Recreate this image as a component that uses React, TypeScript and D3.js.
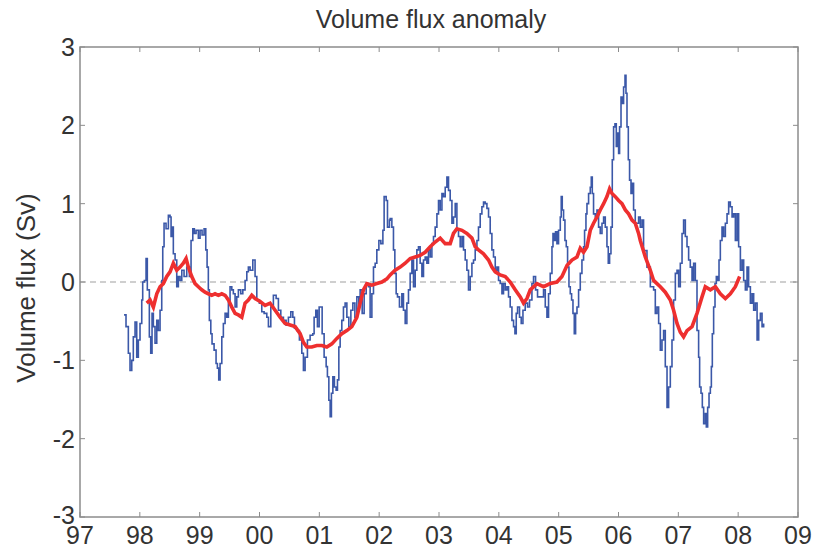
import * as d3 from 'd3';
import React, { useEffect, useRef } from 'react';

// blue: raw volume flux anomaly (Sv), time in decimal years
const blueT = [
  1997.736, 1997.769, 1997.808, 1997.836, 1997.865, 1997.891, 1997.92, 1997.948, 1997.975, 1998.003,
  1998.032, 1998.048, 1998.075, 1998.104, 1998.125, 1998.159, 1998.182, 1998.204, 1998.226, 1998.254,
  1998.283, 1998.309, 1998.338, 1998.366, 1998.383, 1998.405, 1998.438, 1998.477, 1998.505, 1998.522,
  1998.543, 1998.56, 1998.589, 1998.617, 1998.644, 1998.672, 1998.701, 1998.739, 1998.784, 1998.828,
  1998.856, 1998.885, 1998.911, 1998.94, 1998.978, 1999.007, 1999.04, 1999.074, 1999.102, 1999.124,
  1999.145, 1999.162, 1999.186, 1999.207, 1999.241, 1999.274, 1999.296, 1999.319, 1999.341, 1999.37,
  1999.396, 1999.425, 1999.453, 1999.48, 1999.508, 1999.537, 1999.563, 1999.592, 1999.62, 1999.647,
  1999.687, 1999.721, 1999.759, 1999.788, 1999.814, 1999.843, 1999.888, 1999.926, 1999.955, 1999.998,
  2000.038, 2000.077, 2000.122, 2000.149, 2000.189, 2000.232, 2000.278, 2000.316, 2000.356, 2000.4,
  2000.445, 2000.483, 2000.523, 2000.557, 2000.584, 2000.624, 2000.667, 2000.707, 2000.734, 2000.762,
  2000.801, 2000.846, 2000.891, 2000.913, 2000.941, 2000.968, 2000.997, 2001.025, 2001.047, 2001.08,
  2001.114, 2001.135, 2001.159, 2001.181, 2001.202, 2001.226, 2001.252, 2001.281, 2001.303, 2001.326,
  2001.348, 2001.376, 2001.403, 2001.431, 2001.46, 2001.493, 2001.527, 2001.56, 2001.594, 2001.627,
  2001.66, 2001.682, 2001.716, 2001.749, 2001.783, 2001.821, 2001.849, 2001.878, 2001.905, 2001.933,
  2001.961, 2001.995, 2002.028, 2002.062, 2002.083, 2002.117, 2002.139, 2002.172, 2002.184, 2002.212,
  2002.239, 2002.262, 2002.284, 2002.306, 2002.339, 2002.379, 2002.406, 2002.435, 2002.463, 2002.49,
  2002.518, 2002.547, 2002.574, 2002.602, 2002.63, 2002.657, 2002.685, 2002.714, 2002.741, 2002.769,
  2002.797, 2002.824, 2002.853, 2002.881, 2002.908, 2002.936, 2002.965, 2002.992, 2003.02, 2003.049,
  2003.075, 2003.104, 2003.132, 2003.159, 2003.187, 2003.216, 2003.242, 2003.271, 2003.299, 2003.326,
  2003.354, 2003.383, 2003.41, 2003.438, 2003.466, 2003.493, 2003.522, 2003.55, 2003.577, 2003.605,
  2003.634, 2003.66, 2003.689, 2003.717, 2003.744, 2003.772, 2003.801, 2003.828, 2003.856, 2003.884,
  2003.911, 2003.94, 2003.968, 2003.995, 2004.023, 2004.052, 2004.078, 2004.107, 2004.135, 2004.162,
  2004.19, 2004.219, 2004.246, 2004.269, 2004.291, 2004.313, 2004.346, 2004.374, 2004.403, 2004.441,
  2004.48, 2004.513, 2004.553, 2004.58, 2004.614, 2004.647, 2004.747, 2004.776, 2004.804, 2004.831,
  2004.859, 2004.888, 2004.905, 2004.926, 2004.948, 2004.971, 2004.998, 2005.027, 2005.043, 2005.06,
  2005.082, 2005.105, 2005.127, 2005.149, 2005.172, 2005.194, 2005.216, 2005.239, 2005.261, 2005.283,
  2005.306, 2005.333, 2005.361, 2005.389, 2005.416, 2005.433, 2005.456, 2005.473, 2005.5, 2005.528,
  2005.545, 2005.562, 2005.583, 2005.612, 2005.64, 2005.667, 2005.695, 2005.724, 2005.751, 2005.779,
  2005.807, 2005.829, 2005.851, 2005.874, 2005.896, 2005.918, 2005.941, 2005.963, 2005.985, 2006.002,
  2006.018, 2006.042, 2006.063, 2006.085, 2006.109, 2006.125, 2006.142, 2006.164, 2006.185, 2006.209,
  2006.226, 2006.252, 2006.28, 2006.336, 2006.364, 2006.393, 2006.419, 2006.476, 2006.532, 2006.587,
  2006.615, 2006.643, 2006.671, 2006.699, 2006.727, 2006.754, 2006.782, 2006.811, 2006.838, 2006.866,
  2006.894, 2006.921, 2006.95, 2006.978, 2007.005, 2007.033, 2007.062, 2007.088, 2007.117, 2007.145,
  2007.172, 2007.2, 2007.229, 2007.256, 2007.284, 2007.312, 2007.339, 2007.356, 2007.379, 2007.401,
  2007.423, 2007.451, 2007.468, 2007.49, 2007.513, 2007.535, 2007.552, 2007.568, 2007.59, 2007.613,
  2007.635, 2007.657, 2007.68, 2007.702, 2007.73, 2007.757, 2007.786, 2007.814, 2007.841, 2007.869,
  2007.898, 2007.925, 2007.953, 2007.981, 2008.008, 2008.037, 2008.065, 2008.092, 2008.12, 2008.148,
  2008.175, 2008.204, 2008.232, 2008.259, 2008.287, 2008.316, 2008.343, 2008.371, 2008.399, 2008.426,
];
const blueV = [
  -0.42, -0.57, -0.91, -1.13, -1.0, -0.7, -0.51, -0.96, -0.74, -0.53,
  -0.23, 0.0, 0.02, 0.3, -0.1, -0.7, -0.91, -0.4, -0.57, -0.78,
  -0.49, -0.62, -0.36, 0.02, 0.45, 0.75, 0.68, 0.85, 0.83, 0.58,
  0.7, 0.36, 0.28, -0.06, 0.07, 0.02, 0.15, 0.07, 0.19, 0.07,
  0.53, 0.68, 0.62, 0.66, 0.56, 0.66, 0.6, 0.68, 0.41, 0.19,
  -0.1, -0.49, -0.66, -0.79, -0.87, -1.04, -1.1, -1.25, -1.04, -0.7,
  -0.53, -0.4, -0.45, -0.27, -0.06, -0.1, -0.15, -0.32, -0.19, -0.1,
  -0.15, -0.1, 0.02, 0.13, 0.19, 0.15, 0.28, 0.07, -0.23, -0.27,
  -0.38, -0.4, -0.45, -0.57, -0.32, -0.17, -0.21, -0.36, -0.45, -0.49,
  -0.55, -0.45, -0.38, -0.45, -0.59, -0.62, -0.74, -0.91, -1.13, -0.96,
  -0.74, -0.68, -0.66, -0.45, -0.36, -0.57, -0.32, -0.32, -0.66, -0.96,
  -1.08, -1.21, -1.51, -1.72, -1.42, -1.21, -1.34, -1.38, -1.25, -0.83,
  -0.62, -0.49, -0.32, -0.27, -0.45, -0.57, -0.36, -0.27, -0.45, -0.19,
  -0.27, -0.1, -0.4, -0.15, -0.02, -0.06, -0.45, -0.15, 0.19, 0.24,
  0.41, 0.53, 0.49, 0.66, 1.09, 1.04, 0.7, 0.79, 0.81, 0.7,
  0.41, 0.11, -0.15, -0.19, -0.32, -0.15, -0.36, -0.53, -0.27, -0.1,
  0.11, 0.28, -0.06, 0.15, 0.41, 0.45, 0.24, 0.07, 0.28, 0.32,
  0.24, 0.41, 0.32, 0.49, 0.58, 0.7, 0.87, 1.04, 0.92, 1.13,
  1.09, 1.21, 1.34, 1.17, 1.04, 0.75, 0.83, 1.0, 0.66, 0.58,
  0.45, 0.58, 0.41, 0.28, 0.15, -0.1, 0.07, 0.24, 0.28, 0.41,
  0.53, 0.7, 0.87, 0.96, 1.02, 1.0, 0.94, 0.83, 0.62, 0.41,
  0.32, 0.15, 0.19, 0.02, -0.02, -0.15, -0.02, -0.1, -0.06, -0.19,
  -0.32, -0.49, -0.57, -0.66, -0.4, -0.32, -0.45, -0.53, -0.36, -0.27,
  -0.32, -0.23, -0.02, 0.07, -0.1, -0.19, -0.1, -0.32, -0.45, -0.15,
  0.11, 0.45, 0.62, 0.53, 0.64, 0.49, 0.66, 0.83, 1.09, 0.92,
  0.79, 0.53, 0.45, 0.19, -0.06, -0.15, -0.23, -0.4, -0.66, -0.4,
  -0.32, -0.1, 0.11, 0.28, 0.45, 0.66, 0.87, 1.0, 1.13, 1.21,
  1.34, 1.13, 0.87, 0.83, 0.92, 0.7, 0.62, 0.75, 0.83, 0.7,
  0.45, 0.24, 0.36, 0.7, 1.56, 1.98, 2.02, 1.73, 1.9, 1.64,
  1.98, 2.36, 2.28, 2.49, 2.64, 2.41, 1.98, 1.56, 1.3, 1.13,
  1.26, 0.92, 0.75, 0.83, 0.7, 0.79, 0.4, 0.19, -0.06, -0.1,
  -0.4, -0.32, -0.53, -0.87, -0.74, -0.62, -1.08, -1.6, -1.34, -1.08,
  -0.74, -0.23, 0.11, 0.15, -0.06, 0.24, 0.62, 0.79, 0.58, 0.45,
  0.28, 0.19, 0.02, 0.24, 0.02, -0.62, -0.96, -1.34, -1.42, -1.6,
  -1.81, -1.68, -1.85, -1.6, -1.42, -1.34, -1.08, -0.66, -0.32, -0.02,
  0.07, 0.02, 0.28, 0.53, 0.7, 0.58, 0.75, 0.87, 1.02, 0.96,
  0.83, 0.87, 0.53, 0.87, 0.45, 0.15, 0.28, 0.02, -0.1, 0.19,
  -0.06, -0.27, -0.15, -0.36, -0.27, -0.74, -0.49, -0.4, -0.57, -0.53,
];

// red: smoothed series
const redT = [
  1998.115, 1998.171, 1998.226, 1998.283, 1998.338, 1998.393, 1998.45, 1998.505, 1998.56, 1998.617,
  1998.672, 1998.727, 1998.773, 1998.811, 1998.868, 1998.923, 1998.978, 1999.035, 1999.09, 1999.145,
  1999.202, 1999.257, 1999.313, 1999.37, 1999.425, 1999.48, 1999.537, 1999.592, 1999.647, 1999.704,
  1999.759, 1999.814, 1999.871, 1999.926, 2000.01, 2000.094, 2000.177, 2000.261, 2000.344, 2000.428,
  2000.512, 2000.595, 2000.679, 2000.734, 2000.791, 2000.874, 2000.958, 2001.042, 2001.125, 2001.209,
  2001.293, 2001.376, 2001.46, 2001.543, 2001.627, 2001.682, 2001.737, 2001.794, 2001.878, 2001.961,
  2002.045, 2002.129, 2002.184, 2002.267, 2002.351, 2002.435, 2002.518, 2002.602, 2002.685, 2002.769,
  2002.853, 2002.936, 2003.02, 2003.104, 2003.187, 2003.242, 2003.299, 2003.383, 2003.466, 2003.55,
  2003.605, 2003.66, 2003.744, 2003.828, 2003.884, 2003.94, 2004.023, 2004.107, 2004.19, 2004.274,
  2004.358, 2004.413, 2004.47, 2004.525, 2004.637, 2004.747, 2004.859, 2004.971, 2005.055, 2005.139,
  2005.222, 2005.306, 2005.361, 2005.416, 2005.473, 2005.528, 2005.583, 2005.64, 2005.695, 2005.751,
  2005.807, 2005.851, 2005.891, 2005.946, 2006.002, 2006.058, 2006.114, 2006.169, 2006.226, 2006.28,
  2006.336, 2006.364, 2006.448, 2006.532, 2006.587, 2006.643, 2006.699, 2006.782, 2006.866, 2006.921,
  2006.978, 2007.033, 2007.088, 2007.145, 2007.229, 2007.312, 2007.396, 2007.451, 2007.535, 2007.619,
  2007.702, 2007.786, 2007.869, 2007.953, 2008.025,
];
const redV = [
  -0.27, -0.23, -0.32, -0.15, -0.06, -0.02, 0.07, 0.13, 0.24, 0.15,
  0.19, 0.24, 0.3, 0.19, 0.07, -0.02, -0.06, -0.1, -0.13, -0.15,
  -0.17, -0.15, -0.17, -0.15, -0.17, -0.23, -0.32, -0.4, -0.42, -0.45,
  -0.27, -0.23, -0.17, -0.21, -0.25, -0.3, -0.27, -0.36, -0.45, -0.53,
  -0.55, -0.57, -0.66, -0.77, -0.83, -0.83, -0.81, -0.81, -0.83, -0.79,
  -0.72, -0.66, -0.62, -0.57, -0.45, -0.27, -0.1, -0.02, -0.04, -0.02,
  0.0, 0.04, 0.09, 0.15, 0.19, 0.24, 0.3, 0.32, 0.34, 0.38,
  0.45, 0.51, 0.56, 0.49, 0.49, 0.62, 0.68, 0.66, 0.62, 0.56,
  0.45, 0.41, 0.36, 0.28, 0.19, 0.13, 0.09, 0.07, 0.0, -0.1,
  -0.19, -0.27, -0.21, -0.1, -0.02, -0.06, -0.02, 0.0, 0.07, 0.21,
  0.28, 0.32, 0.43, 0.38, 0.45, 0.66, 0.75, 0.83, 0.92, 1.0,
  1.09, 1.19, 1.13, 1.09, 1.04, 1.0, 0.92, 0.87, 0.79, 0.75,
  0.62, 0.53, 0.32, 0.15, 0.02, -0.02, -0.06, -0.13, -0.23, -0.36,
  -0.53, -0.64, -0.7, -0.62, -0.57, -0.4, -0.19, -0.06, -0.1, -0.06,
  -0.15, -0.21, -0.15, -0.06, 0.07,
];

const xTickYears = [1997, 1998, 1999, 2000, 2001, 2002, 2003, 2004, 2005, 2006, 2007, 2008, 2009];
const xTickLabels = ['97', '98', '99', '00', '01', '02', '03', '04', '05', '06', '07', '08', '09'];
const yTicks = [-3, -2, -1, 0, 1, 2, 3];

const W = 815;
const H = 548;
const FONT = '"Liberation Sans", Arial, Helvetica, sans-serif';

const App = () => {
  const ref = useRef<SVGSVGElement | null>(null);

  useEffect(() => {
    if (!ref.current) return;
    const svg = d3.select(ref.current);
    svg.selectAll('*').remove();

    const margin = { top: 47, right: 17, bottom: 31, left: 80 };
    const x = d3.scaleLinear().domain([1997, 2009]).range([margin.left, W - margin.right]);
    const y = d3.scaleLinear().domain([-3, 3]).range([H - margin.bottom, margin.top]);
    const [x0, x1] = x.range();
    const [y0, y1] = y.range();
    const axisColor = '#8c8c8c';
    const textColor = '#333';

    // zero line
    svg.append('line')
      .attr('x1', x0).attr('x2', x1).attr('y1', y(0)).attr('y2', y(0))
      .attr('stroke', '#a0a0a0').attr('stroke-width', 1.2).attr('stroke-dasharray', '6,4');

    const bluePts = blueT.map((t, i) => [x(t), y(blueV[i])]);
    const stepLine = d3.line().curve(d3.curveStepAfter);
    svg.append('path').attr('d', stepLine(bluePts as any))
      .attr('fill', 'none').attr('stroke', '#3b58a8').attr('stroke-width', 1.6);

    const redPts = redT.map((t, i) => [x(t), y(redV[i])]);
    svg.append('path').attr('d', d3.line()(redPts as any))
      .attr('fill', 'none').attr('stroke', '#ee2f2f').attr('stroke-width', 3.6).attr('stroke-linejoin', 'miter');

    // box
    svg.append('rect')
      .attr('x', x0).attr('y', y1).attr('width', x1 - x0).attr('height', y0 - y1)
      .attr('fill', 'none').attr('stroke', axisColor).attr('stroke-width', 1.5);

    const tl = 5;
    xTickYears.forEach((t, i) => {
      const px = x(t);
      svg.append('line').attr('x1', px).attr('x2', px).attr('y1', y0).attr('y2', y0 - tl).attr('stroke', axisColor);
      svg.append('line').attr('x1', px).attr('x2', px).attr('y1', y1).attr('y2', y1 + tl).attr('stroke', axisColor);
      svg.append('text').attr('x', px).attr('y', y0 + 27).attr('text-anchor', 'middle')
        .style('font-family', FONT).style('font-size', '25px').attr('fill', textColor).text(xTickLabels[i]);
    });

    yTicks.forEach((v) => {
      const py = y(v);
      svg.append('line').attr('x1', x0).attr('x2', x0 + tl).attr('y1', py).attr('y2', py).attr('stroke', axisColor);
      svg.append('line').attr('x1', x1).attr('x2', x1 - tl).attr('y1', py).attr('y2', py).attr('stroke', axisColor);
      svg.append('text').attr('x', x0 - 5).attr('y', v === -3 ? py - 2 : py).attr('dy', '0.36em').attr('text-anchor', 'end')
        .style('font-family', FONT).style('font-size', '25px').attr('fill', textColor).text(v);
    });

    svg.append('text').attr('x', (x0 + x1) / 2 - 8).attr('y', 28).attr('text-anchor', 'middle')
      .style('font-family', FONT).style('font-size', '25px').attr('fill', textColor).text('Volume flux anomaly');

    svg.append('text').attr('transform', `translate(35,${(y0 + y1) / 2 + 6}) rotate(-90)`).attr('text-anchor', 'middle')
      .style('font-family', FONT).style('font-size', '26px').attr('fill', textColor).text('Volume flux (Sv)');
  }, []);

  return (
    <svg ref={ref} width={W} height={H} style={{ position: 'absolute', left: 0, top: 0, background: '#fff' }} />
  );
};

export default App;
